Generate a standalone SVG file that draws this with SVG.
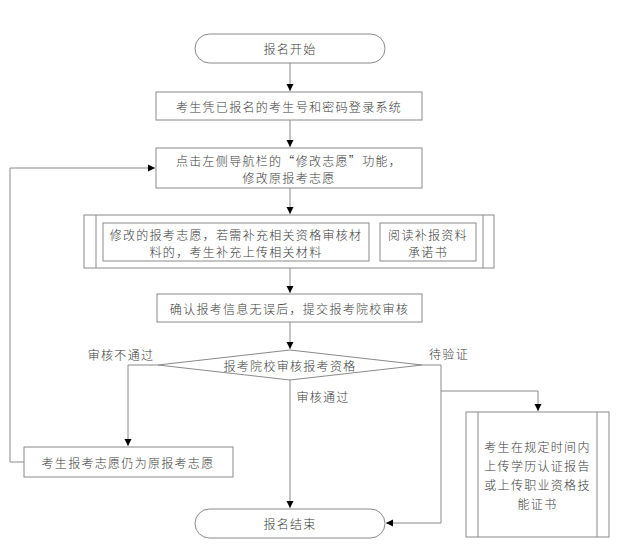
<svg xmlns="http://www.w3.org/2000/svg" width="622" height="559" viewBox="0 0 622 559">
<style>
.b{fill:#fff;stroke:#8a8a8a;stroke-width:1}
.l{fill:none;stroke:#8a8a8a;stroke-width:1}
.t{font-family:"Noto Sans CJK SC","Liberation Sans",sans-serif;font-size:12px;font-weight:300;fill:#3a3a3a;text-anchor:middle;dominant-baseline:central;letter-spacing:1.3px}
</style>
<defs>
<marker id="a" markerWidth="8" markerHeight="8" refX="7" refY="4" orient="auto" markerUnits="userSpaceOnUse">
<path d="M0,0.5 L7,4 L0,7.5 Z" fill="#000"/>
</marker>
</defs>
<rect width="622" height="559" fill="#fff"/>
<g id="connectors">
<path class="l" d="M290,63 V91" marker-end="url(#a)"/>
<path class="l" d="M290,120 V147" marker-end="url(#a)"/>
<path class="l" d="M290,188 V214" marker-end="url(#a)"/>
<path class="l" d="M290,268 V293" marker-end="url(#a)"/>
<path class="l" d="M290,322 V349" marker-end="url(#a)"/>
<path class="l" d="M158,365 H128 V446" marker-end="url(#a)"/>
<path class="l" d="M290,380 V508" marker-end="url(#a)"/>
<path class="l" d="M422,365 H441 V523 H386" marker-end="url(#a)"/>
<path class="l" d="M441,391 H538 V411" marker-end="url(#a)"/>
<path class="l" d="M24,462 H10 V168 H155" marker-end="url(#a)"/>
</g>
<g id="start">
<rect class="b" x="195" y="34" width="190" height="29" rx="14.5"/>
<text class="t" x="290" y="48.5">报名开始</text>
</g>
<g id="login">
<rect class="b" x="156" y="92" width="266" height="28"/>
<text class="t" x="289" y="106">考生凭已报名的考生号和密码登录系统</text>
</g>
<g id="modify">
<rect class="b" x="156" y="148" width="266" height="40"/>
<text class="t" x="289" y="160">点击左侧导航栏的“修改志愿”功能，</text>
<text class="t" x="289" y="177">修改原报考志愿</text>
</g>
<g id="supplement">
<rect class="b" x="84" y="215" width="410" height="53"/>
<path class="l" d="M96,215 V268 M483,215 V268"/>
<rect class="b" x="103" y="223" width="266" height="38"/>
<text class="t" x="236" y="234">修改的报考志愿，若需补充相关资格审核材</text>
<text class="t" x="236" y="251">料的，考生补充上传相关材料</text>
<rect class="b" x="380" y="223" width="96" height="38"/>
<text class="t" x="428" y="234">阅读补报资料</text>
<text class="t" x="428" y="251">承诺书</text>
</g>
<g id="confirm">
<rect class="b" x="157" y="294" width="265" height="28"/>
<text class="t" x="289.5" y="308">确认报考信息无误后，提交报考院校审核</text>
</g>
<g id="decision">
<polygon class="b" points="290,350 422,365 290,380 158,365"/>
<text class="t" x="290" y="365">报考院校审核报考资格</text>
</g>
<g id="labels">
<text class="t" x="121" y="354">审核不通过</text>
<text class="t" x="449" y="353">待验证</text>
<text class="t" x="323" y="396">审核通过</text>
</g>
<g id="keep">
<rect class="b" x="24" y="447" width="209" height="30"/>
<text class="t" x="128" y="462">考生报考志愿仍为原报考志愿</text>
</g>
<g id="upload">
<rect class="b" x="466" y="412" width="143" height="125"/>
<path class="l" d="M478,412 V537 M597,412 V537"/>
<text class="t" x="537.5" y="446">考生在规定时间内</text>
<text class="t" x="537.5" y="465">上传学历认证报告</text>
<text class="t" x="537.5" y="484">或上传职业资格技</text>
<text class="t" x="537.5" y="503">能证书</text>
</g>
<g id="end">
<rect class="b" x="195" y="509" width="190" height="29" rx="14.5"/>
<text class="t" x="290" y="523.5">报名结束</text>
</g>
</svg>
